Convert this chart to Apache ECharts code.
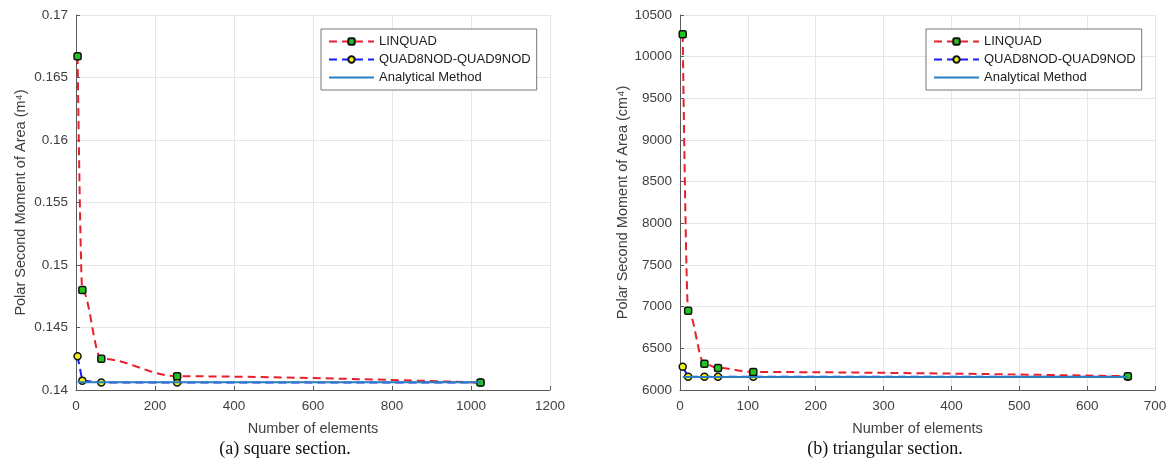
<!DOCTYPE html>
<html>
<head>
<meta charset="utf-8">
<title>Polar Second Moment of Area</title>
<script src="https://cdn.jsdelivr.net/npm/echarts@6/dist/echarts.min.js"></script>
<style>
  html, body { margin: 0; padding: 0; background: #fff; }
  #main { width: 1174px; height: 468px; }
</style>
</head>
<body>
<div id="main"></div>
<script>
// (a) square section
const squareElements = [4, 16, 64, 256, 1024]
const squareLinquad = [0.1667, 0.1480, 0.1425, 0.1411, 0.1406]
const squareQuad8 = [0.1427, 0.14075, 0.1406, 0.1406, 0.1406]
const squareAnalytical = [0.14063, 0.14063, 0.14063, 0.14063, 0.14063]

// (b) triangular section
const triElements = [4, 12, 36, 56, 108, 660]
const triLinquad = [10270, 6950, 6316, 6264, 6216, 6165]
const triQuad8 = [6280, 6158, 6158, 6158, 6158, 6158]
const triAnalytical = [6155, 6155, 6155, 6155, 6155, 6155]

const seriesNames = ['LINQUAD', 'QUAD8NOD-QUAD9NOD', 'Analytical Method']

const textColor = '#404040'
const font = 'Liberation Sans, Arial, sans-serif'

function pairs(xs, ys) {
  return xs.map((x, i) => [x, ys[i]])
}

// plain numbers, no thousand separators
function plain(v) {
  return String(+v.toFixed(6))
}

function makeX(index, max, interval) {
  return {
    type: 'value', gridIndex: index, min: 0, max: max, interval: interval,
    name: 'Number of elements', nameLocation: 'middle', nameGap: 31,
    nameTextStyle: { color: textColor, fontSize: 14.5, fontFamily: font },
    axisLine: { show: true, lineStyle: { color: '#5a5a5a', width: 1 } },
    axisTick: { show: true, inside: true, length: 4, lineStyle: { color: '#5a5a5a' } },
    axisLabel: { color: textColor, fontSize: 13.5, fontFamily: font, margin: 9, formatter: plain },
    splitLine: { show: true, lineStyle: { color: '#e6e6e6' } }
  }
}

function makeY(index, min, max, interval, unit, gap) {
  return {
    type: 'value', gridIndex: index, min: min, max: max, interval: interval,
    name: 'Polar Second Moment of Area (' + unit + ')', nameLocation: 'middle', nameGap: gap,
    nameTextStyle: { color: textColor, fontSize: 14.5, fontFamily: font },
    axisLine: { show: true, lineStyle: { color: '#5a5a5a', width: 1 } },
    axisTick: { show: true, inside: true, length: 4, lineStyle: { color: '#5a5a5a' } },
    axisLabel: { color: textColor, fontSize: 13.5, fontFamily: font, margin: 8, formatter: plain },
    splitLine: { show: true, lineStyle: { color: '#e6e6e6' } }
  }
}

function makeSeries(index, xs, linquad, quad8, exact) {
  return [
    {
      name: seriesNames[0], type: 'line', xAxisIndex: index, yAxisIndex: index,
      data: pairs(xs, linquad), smooth: 0.35, smoothMonotone: 'x',
      symbol: 'roundRect', symbolSize: 7, z: 3,
      lineStyle: { color: '#e6202e', width: 2, type: [8, 5] },
      itemStyle: { color: '#22c41e', borderColor: '#111', borderWidth: 1.5 }
    },
    {
      name: seriesNames[1], type: 'line', xAxisIndex: index, yAxisIndex: index,
      data: pairs(xs, quad8), symbol: 'circle', symbolSize: 7, z: 2,
      lineStyle: { color: '#1a1aff', width: 2, type: [8, 5] },
      itemStyle: { color: '#f2f21a', borderColor: '#111', borderWidth: 1.5 }
    },
    {
      name: seriesNames[2], type: 'line', xAxisIndex: index, yAxisIndex: index,
      data: pairs(xs, exact), symbol: 'none', z: 4,
      lineStyle: { color: '#2a7fc0', width: 2 },
      itemStyle: { color: '#2a7fc0' }
    }
  ]
}

function makeLegend(left) {
  return {
    left: left, top: 29, orient: 'vertical',
    data: [
      { name: seriesNames[0] },
      { name: seriesNames[1] },
      // no marker for the analytical line
      { name: seriesNames[2], itemStyle: { color: 'rgba(0,0,0,0)', borderWidth: 0 } }
    ],
    backgroundColor: '#fff', borderColor: '#777', borderWidth: 1,
    padding: [6, 6, 6, 7], itemGap: 5, itemWidth: 45, itemHeight: 8,
    textStyle: { color: '#222', fontSize: 13, fontFamily: font }
  }
}

const chart = echarts.init(document.getElementById('main'), null, { renderer: 'canvas' })

chart.setOption({
  backgroundColor: '#fff',
  animation: false,
  title: [
    { text: '(a) square section.', left: 280, top: 435, textAlign: 'center',
      textStyle: { fontFamily: 'Liberation Serif, Times New Roman, serif', fontSize: 18, fontWeight: 'normal', color: '#111' } },
    { text: '(b) triangular section.', left: 880, top: 435, textAlign: 'center',
      textStyle: { fontFamily: 'Liberation Serif, Times New Roman, serif', fontSize: 18, fontWeight: 'normal', color: '#111' } }
  ],
  legend: [makeLegend(321), makeLegend(926)],
  grid: [
    { left: 76, right: 624, top: 15, bottom: 78 },
    { left: 680, right: 19, top: 15, bottom: 78 }
  ],
  xAxis: [makeX(0, 1200, 200), makeX(1, 700, 100)],
  yAxis: [
    makeY(0, 0.14, 0.17, 0.005, 'm⁴', 48),
    makeY(1, 6000, 10500, 500, 'cm⁴', 50)
  ],
  series: [].concat(
    makeSeries(0, squareElements, squareLinquad, squareQuad8, squareAnalytical),
    makeSeries(1, triElements, triLinquad, triQuad8, triAnalytical)
  )
})
</script>
</body>
</html>
